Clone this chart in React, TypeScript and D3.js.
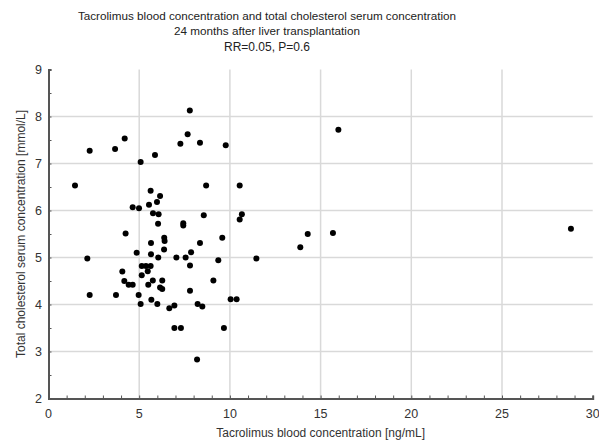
import React, { useEffect, useRef } from 'react';
import * as d3 from 'd3';

// tacrolimus [ng/mL]
const tacrolimus = [
  1.46, 2.27, 3.67, 4.2, 4.25, 4.64, 4.99, 5.08, 4.86, 5.54,
  5.63, 5.87, 5.76, 5.98, 6.15, 6.07, 6.04, 5.65, 5.65, 6.05,
  6.38, 6.4, 6.37, 7.05, 7.56, 7.86, 8.35, 7.27, 7.67, 7.79,
  8.35, 7.43, 7.43, 9.77, 8.69, 10.54, 8.56, 10.66, 10.54, 9.58,
  9.36, 11.46, 13.88, 7.8, 9.09, 7.8, 6.27, 6.15, 6.27, 5.63,
  5.75, 5.67, 6.0, 6.66, 6.94, 8.22, 8.48, 10.04, 10.37, 6.94,
  7.3, 9.67, 8.19, 2.14, 2.27, 3.72, 4.07, 4.18, 4.42, 4.64,
  4.97, 5.08, 5.14, 5.37, 5.47, 5.14, 5.5, 15.98, 14.29, 15.68,
  28.8,
];

// cholesterol [mmol/L]
const cholesterol = [
  6.53, 7.27, 7.31, 7.53, 5.51, 6.07, 6.05, 7.03, 5.1, 6.12,
  6.42, 7.18, 5.94, 6.18, 6.31, 5.92, 5.72, 5.31, 5.07, 5.0,
  5.42, 5.35, 5.17, 5.0, 5.0, 5.11, 5.31, 7.42, 7.62, 8.13,
  7.44, 5.73, 5.68, 7.39, 6.53, 6.53, 5.9, 5.92, 5.81, 5.42,
  4.94, 4.98, 5.22, 4.83, 4.51, 4.29, 4.51, 4.36, 4.33, 4.82,
  4.51, 4.1, 4.01, 3.92, 3.98, 4.01, 3.96, 4.11, 4.11, 3.5,
  3.5, 3.5, 2.83, 4.98, 4.2, 4.2, 4.7, 4.5, 4.42, 4.42,
  4.2, 4.01, 4.82, 4.82, 4.71, 4.62, 4.42, 7.72, 5.5, 5.52,
  5.61,
];

const xTicks = [0, 5, 10, 15, 20, 25, 30];
const yTicks = [2, 3, 4, 5, 6, 7, 8, 9];

const titleLines = [
  'Tacrolimus blood concentration and total cholesterol serum concentration',
  '24 months after liver transplantation',
  'RR=0.05, P=0.6',
];

const App = () => {
  const svgRef = useRef(null);

  useEffect(() => {
    const svg = d3.select(svgRef.current);
    svg.selectAll('*').remove();

    const W = 599;
    const H = 443;
    const font = '"Liberation Sans", Arial, sans-serif';

    const x = d3.scaleLinear().domain([0, 30]).range([48.5, 592.7]);
    const y = d3.scaleLinear().domain([2, 9]).range([398.5, 69.5]);

    svg.attr('width', W).attr('height', H);
    svg.append('rect').attr('width', W).attr('height', H).attr('fill', '#fff');

    // title
    svg.append('g')
      .selectAll('text')
      .data(titleLines)
      .join('text')
      .attr('x', 267)
      .attr('y', (d, i) => [20, 35, 51][i])
      .attr('text-anchor', 'middle')
      .attr('font-family', font)
      .attr('font-size', (d, i) => (i === 2 ? 12 : 11.7))
      .attr('fill', '#222')
      .text((d) => d);

    // grid
    const grid = svg.append('g').attr('stroke', '#d9d9d9').attr('stroke-width', 1.5);
    grid.selectAll('line.v')
      .data(xTicks.filter((t) => t > 0 && t < 30))
      .join('line')
      .attr('class', 'v')
      .attr('x1', (d) => x(d)).attr('x2', (d) => x(d))
      .attr('y1', y(9)).attr('y2', y(2));
    grid.selectAll('line.h')
      .data(yTicks.filter((t) => t > 2 && t < 9))
      .join('line')
      .attr('class', 'h')
      .attr('x1', x(0)).attr('x2', x(30))
      .attr('y1', (d) => y(d)).attr('y2', (d) => y(d));

    // x axis
    const xAxis = svg.append('g')
      .attr('transform', `translate(0,${y(2)})`)
      .call(d3.axisBottom(x).tickValues(d3.range(0, 31, 1)).tickSize(-3).tickFormat(() => ''));
    xAxis.select('.domain').attr('stroke', '#555').attr('stroke-width', 2);
    xAxis.selectAll('.tick line').attr('stroke', '#555');
    svg.append('g')
      .selectAll('text')
      .data(xTicks)
      .join('text')
      .attr('x', (d) => x(d))
      .attr('y', 418)
      .attr('text-anchor', 'middle')
      .attr('font-family', font)
      .attr('font-size', 12.5)
      .attr('fill', '#333')
      .text((d) => d);

    // y axis
    const yAxis = svg.append('g')
      .attr('transform', `translate(${x(0)},0)`)
      .call(d3.axisLeft(y).tickValues(d3.range(2, 9.01, 0.5)).tickSize(-3).tickFormat(() => ''));
    yAxis.select('.domain').attr('stroke', '#555').attr('stroke-width', 2);
    yAxis.selectAll('.tick line').attr('stroke', '#555');
    svg.append('g')
      .selectAll('text')
      .data(yTicks)
      .join('text')
      .attr('x', 42)
      .attr('y', (d) => y(d) + 4.5)
      .attr('text-anchor', 'end')
      .attr('font-family', font)
      .attr('font-size', 12.5)
      .attr('fill', '#333')
      .text((d) => d);

    // axis titles
    svg.append('text')
      .attr('x', (x(0) + x(30)) / 2)
      .attr('y', 437)
      .attr('text-anchor', 'middle')
      .attr('font-family', font)
      .attr('font-size', 12)
      .attr('fill', '#333')
      .text('Tacrolimus blood concentration [ng/mL]');
    svg.append('text')
      .attr('transform', `translate(25,${(y(2) + y(9)) / 2}) rotate(-90)`)
      .attr('text-anchor', 'middle')
      .attr('font-family', font)
      .attr('font-size', 12)
      .attr('fill', '#333')
      .text('Total cholesterol serum concentration [mmol/L]');

    // points
    svg.append('g')
      .selectAll('circle')
      .data(d3.range(tacrolimus.length))
      .join('circle')
      .attr('cx', (i) => x(tacrolimus[i]))
      .attr('cy', (i) => y(cholesterol[i]))
      .attr('r', 3)
      .attr('fill', '#000');
  }, []);

  return (
    <svg ref={svgRef} style={{ position: 'absolute', left: 0, top: 0, display: 'block' }}></svg>
  );
};

export default App;
